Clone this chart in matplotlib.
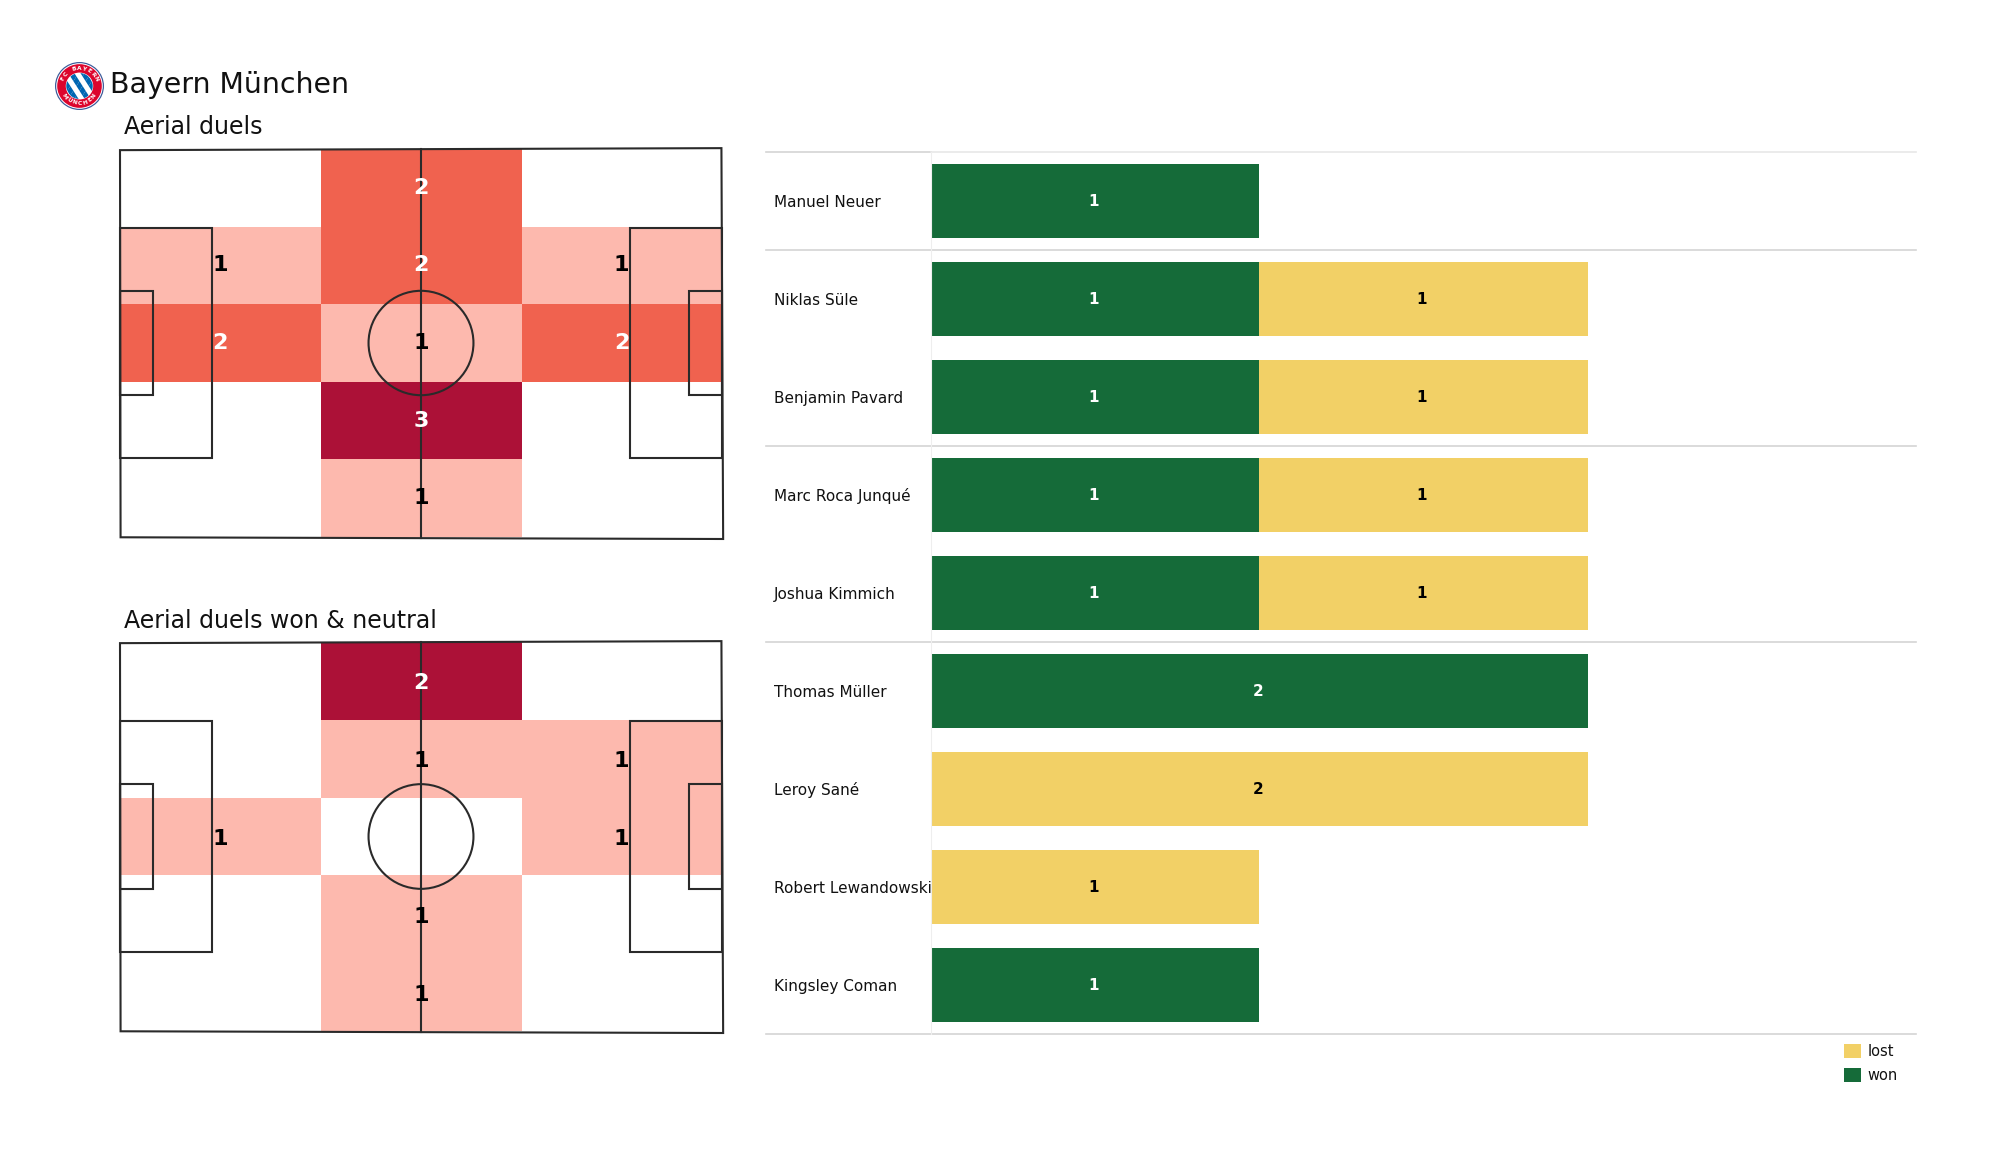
import numpy as np
import matplotlib
matplotlib.use("Agg")
import matplotlib.pyplot as plt
from matplotlib.colors import ListedColormap
from matplotlib.patches import Circle, Rectangle, Polygon

W, H = 2000, 1175

team = "Bayern München"
title_all = "Aerial duels"
title_won = "Aerial duels won & neutral"

# heat grids, first row is the top of the pitch
duels_all = [[0, 2, 0],
             [1, 2, 1],
             [2, 1, 2],
             [0, 3, 0],
             [0, 1, 0]]
duels_won = [[0, 2, 0],
             [0, 1, 1],
             [1, 0, 1],
             [0, 1, 0],
             [0, 1, 0]]

players = ["Manuel Neuer", "Niklas Süle", "Benjamin Pavard", "Marc Roca Junqué",
           "Joshua Kimmich", "Thomas Müller", "Leroy Sané", "Robert Lewandowski",
           "Kingsley Coman"]
won = [1, 1, 1, 1, 1, 2, 0, 0, 1]
lost = [0, 1, 1, 1, 1, 0, 2, 1, 0]
separators = [1, 3, 5, 9]

GREEN = "#156b39"
YELLOW = "#f2d066"
PINK = "#fdb9ae"
ORANGE = "#f0624f"
DARK = "#ac1137"
LINE = "#2a2a2a"


def px_axes(fig, left, top, right, bottom):
    return fig.add_axes([left / W, 1 - bottom / H, (right - left) / W, (bottom - top) / H])


def draw_pitch(ax, grid, colors, text_dy=0.0):
    grid = np.array(grid)
    cmap = ListedColormap(colors)
    ax.pcolormesh([0, 35, 70.2, 105], np.linspace(0, 68, 6), grid, cmap=cmap,
                  vmin=-0.5, vmax=len(colors) - 0.5, antialiased=False, zorder=1)
    ax.set_xlim(0, 105)
    ax.set_ylim(68, 0)
    ax.axis("off")

    # pitch markings, the outline sits a little crooked in the original
    kw = dict(fill=False, ec=LINE, lw=1.5, zorder=3, clip_on=False)
    ax.add_patch(Polygon([(0, 0.2), (104.9, -0.15), (105.2, 68.35), (0.1, 68.05)], closed=True, **kw))
    for x, depth, six in [(0, 16, 5.75), (105, -16, -5.75)]:
        ax.add_patch(Rectangle((x, 13.85), depth, 40.3, **kw))
        ax.add_patch(Rectangle((x, 24.85), six, 18.3, **kw))
    ax.add_patch(Circle((52.5, 34), 9.15, **kw))
    ax.plot([52.5, 52.5], [0, 68.2], color=LINE, lw=1.5, zorder=3, clip_on=False)

    for r in range(grid.shape[0]):
        for c in range(grid.shape[1]):
            if grid[r, c] == 0:
                continue
            col = "white" if grid[r, c] >= 2 else "black"
            ax.text((c + 0.5) * 35, (r + 0.5) * 13.6 + text_dy, str(grid[r, c]), color=col,
                    fontsize=16, fontweight="bold", ha="center", va="center", zorder=4)


def draw_logo(ax):
    # hand drawn club badge
    ax.set_xlim(-1, 1)
    ax.set_ylim(-1, 1)
    ax.axis("off")
    ax.add_patch(Circle((0, 0), 1.0, fc="#3c5a9a", ec="none"))
    ax.add_patch(Circle((0, 0), 0.95, fc="white", ec="none"))
    ax.add_patch(Circle((0, 0), 0.91, fc="#dc052d", ec="none"))
    ax.add_patch(Circle((0, 0), 0.56, fc="white", ec="none"))
    clip = Circle((0, 0), 0.54, transform=ax.transData)
    step_x, step_y = 0.125, 0.2
    for i in range(-7, 8):
        for j in range(-5, 6):
            if (i + j) % 2 or ((i + j) // 2) % 2:
                continue
            cx, cy = i * step_x, j * step_y
            d = Polygon([(cx - step_x, cy), (cx, cy + step_y), (cx + step_x, cy), (cx, cy - step_y)],
                        fc="#0066b2", ec="none")
            ax.add_patch(d)
            d.set_clip_path(clip)
    for word, start, end, flip in [("FC BAYERN", 155, 25, False), ("MÜNCHEN", 215, 325, True)]:
        for ch, a in zip(word, np.linspace(start, end, len(word))):
            t = np.radians(a)
            rot = a + 90 if flip else a - 90
            ax.text(0.73 * np.cos(t), 0.73 * np.sin(t), ch, color="white", fontsize=4.2,
                    fontweight="bold", rotation=rot, ha="center", va="center")


def draw_bars(ax):
    y = np.arange(len(players)) + 0.5
    won_bars = ax.barh(y, won, height=0.75, color=GREEN, label="won", zorder=2)
    lost_bars = ax.barh(y, lost, left=won, height=0.75, color=YELLOW, label="lost", zorder=2)
    labels = ax.bar_label(won_bars, labels=[str(v) if v else "" for v in won], label_type="center",
                          color="white", fontsize=11, fontweight="bold")
    labels += ax.bar_label(lost_bars, labels=[str(v) if v else "" for v in lost], label_type="center",
                           color="black", fontsize=11, fontweight="bold")
    for t in labels:
        t.xyann = (-1.2, 0)
    ax.set_xlim(0, 3)
    ax.set_ylim(len(players), 0)
    ax.set_xticks([])
    ax.set_yticks(y)
    ax.set_yticklabels(players, ha="left", fontsize=11, color="#111111")
    ax.tick_params(axis="y", length=0, pad=113)
    for s in ["top", "right", "bottom"]:
        ax.spines[s].set_visible(False)
    ax.spines["left"].set_color("#eeeeee")
    ax.spines["left"].set_linewidth(0.8)

    # separators run on under the player names
    left = -(931 - 766) / 328.3
    ax.plot([left, 0], [0, 0], color="#d4d4d4", lw=1.2, clip_on=False)
    ax.plot([0, 3], [0, 0], color="#e8e8e8", lw=1.2, clip_on=False)
    for s in separators:
        ax.plot([left, 3], [s, s], color="#d4d4d4", lw=1.2, clip_on=False)

    ax.legend(handles=[lost_bars, won_bars], loc="upper left", frameon=False, fontsize=10.5,
              bbox_to_anchor=(1844 / W, 1 - 1044 / H), bbox_transform=ax.figure.transFigure,
              borderpad=0, borderaxespad=0, handlelength=1.17, handleheight=1.12,
              labelspacing=0.62, handletextpad=0.42, labelcolor="#111111")


fig = plt.figure(figsize=(W / 100, H / 100), dpi=100, facecolor="white")

draw_logo(px_axes(fig, 55, 62, 104, 110))
fig.text(110 / W, 1 - 85 / H, team, fontsize=20.4, va="center", ha="left", color="#111111")
fig.text(124 / W, 1 - 127 / H, title_all, fontsize=17, va="center", ha="left", color="#111111")
fig.text(124 / W, 1 - 621.5 / H, title_won, fontsize=17, va="center", ha="left", color="#111111")

draw_pitch(px_axes(fig, 120, 149, 722, 537), duels_all, ["white", PINK, ORANGE, DARK])
draw_pitch(px_axes(fig, 120, 642, 722, 1031), duels_won, ["white", PINK, DARK], text_dy=0.45)
draw_bars(px_axes(fig, 931, 152, 1916, 1034))

fig.savefig("out.png", dpi=100, facecolor="white")
